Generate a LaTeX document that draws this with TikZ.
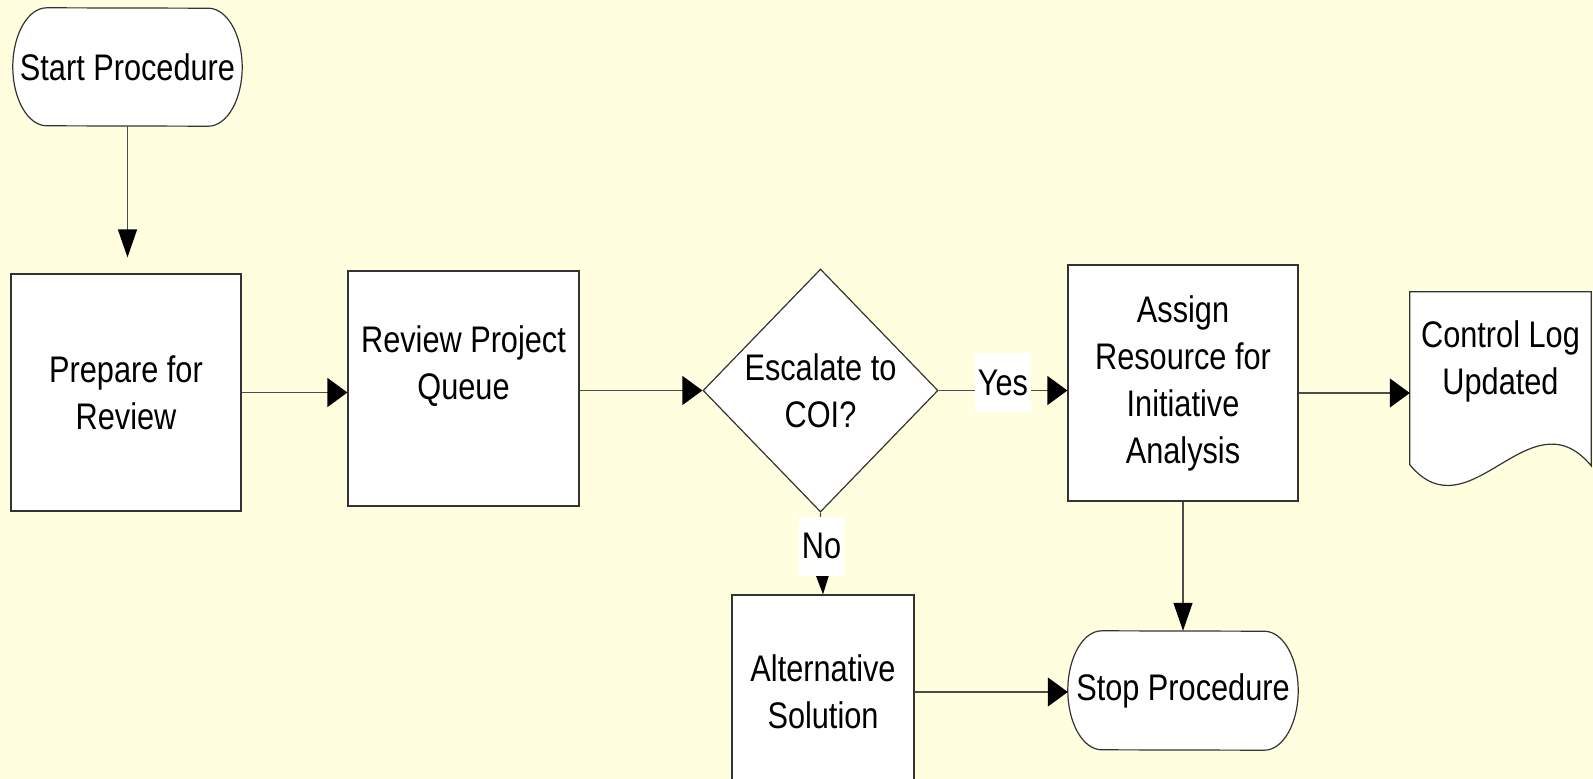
\documentclass[tikz,border=0pt]{standalone}
\usepackage{fontspec}
\setmainfont{Liberation Sans}[FakeStretch=0.83]
\usetikzlibrary{arrows.meta,calc,shapes.geometric}
\definecolor{paper}{RGB}{255,255,224}
\pgfdeclarelayer{back}
\pgfdeclarelayer{bg}
\pgfsetlayers{back,bg,main}
\begin{document}
\begin{tikzpicture}[x=1pt,y=-1pt,
  every node/.style={font=\fontsize{37}{47}\selectfont, align=center, inner sep=0pt},
  outline/.style={draw=black!80, line width=1.2pt, fill=white},
  conn/.style={draw=black!70, line width=1.2pt},
  harrow/.style={conn, -{Triangle[length=20pt,width=29pt,color=black]}},
  varrow/.style={conn, -{Triangle[length=28pt,width=19pt,color=black]}},
  lbl/.style={fill=white, inner xsep=3pt, minimum height=59pt}]
\useasboundingbox (0,0) rectangle (1593,779);
\begin{pgfonlayer}{back}
\fill[paper] (0,0) rectangle (1593,779);
\end{pgfonlayer}

% nodes
\node[minimum width=229pt, minimum height=118pt] (start) at (127.5,67) {Start Procedure};
\node[outline, minimum width=230pt, minimum height=237pt] (prep) at (126,392.5) {Prepare for\\Review};
\node[outline, minimum width=231pt, minimum height=235pt] (rev) at (463.5,388.5) {};
\node (revtext) at (463.5,366) {Review Project\\Queue};
\node[diamond, outline, minimum width=235pt, minimum height=243pt] (dia) at (820.5,390.5) {};
\node (diatext) at (dia.center) {Escalate to\\COI?};
\node[outline, minimum width=230pt, minimum height=236pt] (assign) at (1183,383) {Assign\\Resource for\\Initiative\\Analysis};
\node[minimum width=181pt, minimum height=202pt] (log) at (1500.5,393) {};
\node (logtext) at (1500.5,361) {Control Log\\Updated};
\node[outline, minimum width=182pt, minimum height=194pt] (alt) at (823,692) {};
\node (alttext) at (alt.center) {Alternative\\Solution};
\node[minimum width=230pt, minimum height=119pt] (stop) at (1183,690.5) {Stop Procedure};

% special outlines
\begin{pgfonlayer}{bg}
\draw[outline] ($(start.north west)+(34,0)$) arc[start angle=90,end angle=270,x radius=34pt,y radius=59pt]
  -- ($(start.south east)+(-34,0)$) arc[start angle=-90,end angle=90,x radius=34pt,y radius=59pt] -- cycle;
\draw[outline] ($(stop.north west)+(34,0)$) arc[start angle=90,end angle=270,x radius=34pt,y radius=59.5pt]
  -- ($(stop.south east)+(-34,0)$) arc[start angle=-90,end angle=90,x radius=34pt,y radius=59.5pt] -- cycle;
\draw[outline] (log.north west) -- (log.north east) -- ($(log.north east)+(0,174)$)
  .. controls ($(log.north west)+(120,100)$) and ($(log.north west)+(60,245)$) .. ($(log.north west)+(0,173)$) -- cycle;
\end{pgfonlayer}

% connectors
\draw[varrow, shorten >=16pt] (start.south) -- (start.south |- prep.north);
\draw[harrow] (prep.east) -- (prep.east -| rev.west);
\draw[harrow] (rev.east |- dia.west) -- (dia.west);
\draw[harrow] (dia.east) -- (dia.east -| assign.west) node[lbl, midway, yshift=8pt] {Yes};
\draw[varrow] (dia.south) -- (alt.north) node[lbl, pos=0.41] {No};
\draw[harrow] (assign.east |- log.west) -- (log.west);
\draw[varrow] (assign.south) -- (stop.north);
\draw[harrow] (alt.east) -- (alt.east -| stop.west);
\end{tikzpicture}
\end{document}
